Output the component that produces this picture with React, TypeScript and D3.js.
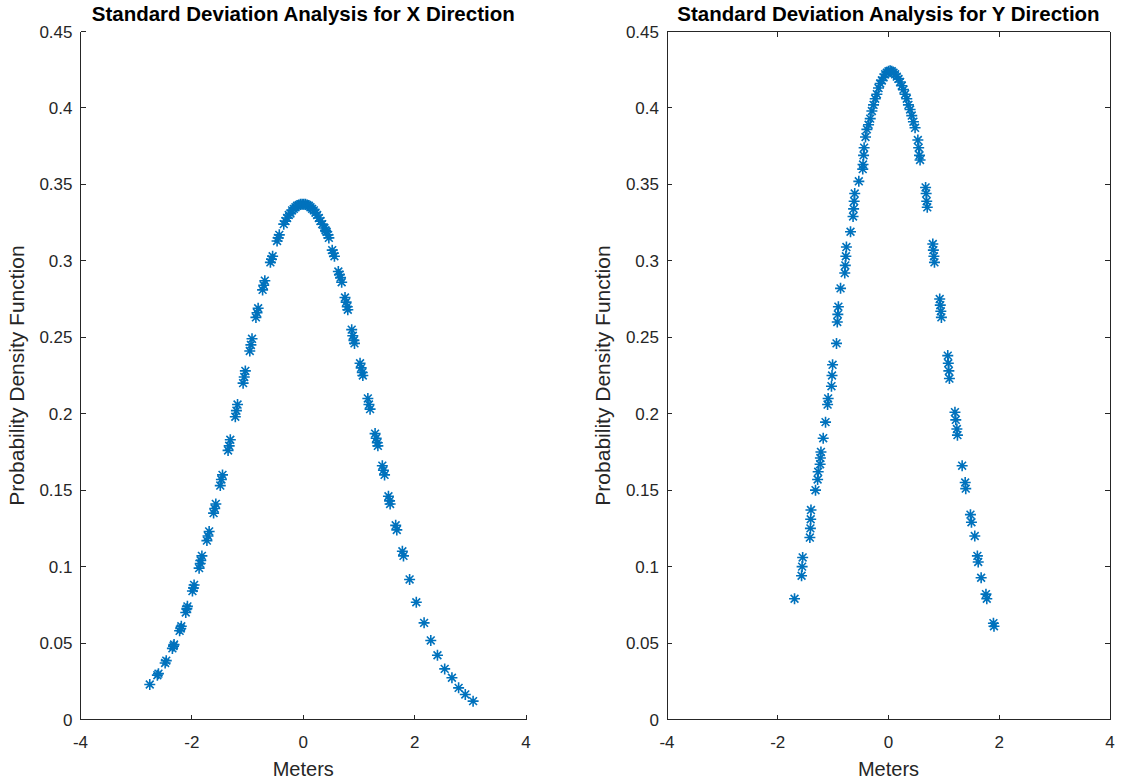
import React from 'react';
import * as d3 from 'd3';

// ---------- data ----------
const xTicks = [-4, -2, 0, 2, 4];
const xTickLabels = ['-4', '-2', '0', '2', '4'];
const yTicks = [0, 0.05, 0.1, 0.15, 0.2, 0.25, 0.3, 0.35, 0.4, 0.45];
const yTickLabels = ['0', '0.05', '0.1', '0.15', '0.2', '0.25', '0.3', '0.35', '0.4', '0.45'];

const titleX = 'Standard Deviation Analysis for X Direction';
const titleY = 'Standard Deviation Analysis for Y Direction';
const xLabel = 'Meters';
const yLabel = 'Probability Density Function';

// X direction: meters and probability density
const xDirMeters = [
  -2.756,
  -2.62, -2.60,
  -2.48, -2.46,
  -2.35, -2.33, -2.32,
  -2.22, -2.20, -2.19,
  -2.11, -2.09, -2.08,
  -1.99, -1.97, -1.96,
  -1.87, -1.85, -1.84, -1.82,
  -1.73, -1.71, -1.69,
  -1.61, -1.59, -1.57,
  -1.49, -1.47, -1.45,
  -1.35, -1.33, -1.31,
  -1.22, -1.20, -1.18,
  -1.08, -1.06, -1.04,
  -0.96, -0.94, -0.92,
  -0.85, -0.83, -0.81,
  -0.73, -0.71, -0.69,
  -0.59, -0.57, -0.55,
  -0.47, -0.45, -0.43,
  -0.35, -0.32, -0.29, -0.26, -0.23, -0.20, -0.17, -0.14, -0.11, -0.08, -0.05, -0.02,
  0.01, 0.04, 0.07, 0.10, 0.13, 0.16, 0.19, 0.22, 0.25, 0.28, 0.31, 0.34,
  0.38, 0.40, 0.42, 0.445, 0.46,
  0.52, 0.54, 0.56,
  0.63, 0.65, 0.67, 0.69,
  0.75, 0.77, 0.79, 0.80,
  0.87, 0.89, 0.91, 0.92,
  1.02, 1.04, 1.06, 1.07,
  1.16, 1.18, 1.20,
  1.29, 1.31, 1.33, 1.34,
  1.42, 1.44, 1.46,
  1.53, 1.55, 1.56,
  1.66, 1.68,
  1.78, 1.80,
  1.91, 2.03, 2.17, 2.29, 2.41, 2.54, 2.67, 2.79, 2.91, 3.05,
];
const xDirPdf = [
  0.0229,
  0.029, 0.030,
  0.037, 0.0385,
  0.0465, 0.048, 0.049,
  0.058, 0.0595, 0.061,
  0.070, 0.0725, 0.074,
  0.084, 0.086, 0.088,
  0.099, 0.102, 0.104, 0.107,
  0.117, 0.120, 0.123,
  0.135, 0.138, 0.141,
  0.153, 0.157, 0.160,
  0.176, 0.179, 0.183,
  0.198, 0.202, 0.206,
  0.220, 0.224, 0.228,
  0.241, 0.245, 0.249,
  0.263, 0.266, 0.269,
  0.281, 0.284, 0.287,
  0.299, 0.301, 0.303,
  0.313, 0.315, 0.317,
  0.324, 0.326, 0.328, 0.330, 0.331, 0.333, 0.334, 0.335, 0.336, 0.3365, 0.337, 0.337,
  0.337, 0.337, 0.3365, 0.336, 0.335, 0.334, 0.333, 0.3315, 0.330, 0.328, 0.326, 0.324,
  0.3215, 0.320, 0.319, 0.317, 0.315,
  0.307, 0.305, 0.303,
  0.293, 0.291, 0.289, 0.286,
  0.276, 0.273, 0.270, 0.268,
  0.255, 0.251, 0.248, 0.246,
  0.233, 0.230, 0.227, 0.225,
  0.210, 0.206, 0.203,
  0.187, 0.184, 0.181, 0.179,
  0.166, 0.163, 0.160,
  0.146, 0.143, 0.141,
  0.127, 0.124,
  0.110, 0.107,
  0.0916, 0.0767, 0.0632, 0.0517, 0.042, 0.0331, 0.0273, 0.0207, 0.0164, 0.012,
];

// Y direction: meters and probability density
const yDirMeters = [
  -1.697,
  -1.55, -1.56, -1.57,
  -1.40, -1.405, -1.41, -1.42,
  -1.27, -1.28, -1.318,
  -1.22, -1.23, -1.235,
  -1.179,
  -1.137,
  -1.09, -1.10,
  -1.01, -1.02, -1.03,
  -0.939,
  -0.905, -0.915, -0.925,
  -0.866,
  -0.76, -0.77, -0.78, -0.79,
  -0.686,
  -0.61, -0.62, -0.63, -0.64,
  -0.536,
  -0.44, -0.45, -0.46, -0.465,
  -0.39, -0.415,
  -0.36, -0.33, -0.30, -0.27, -0.24, -0.21, -0.18, -0.15, -0.12, -0.09, -0.06, -0.03,
  0.00, 0.03, 0.06, 0.09, 0.12, 0.15, 0.18, 0.21, 0.24, 0.27, 0.30, 0.33, 0.36, 0.39, 0.42, 0.45, 0.48,
  0.53, 0.545, 0.56, 0.57,
  0.67, 0.68, 0.69, 0.70,
  0.80, 0.81, 0.82, 0.83,
  0.925, 0.935, 0.945, 0.955,
  1.07, 1.08, 1.09, 1.10,
  1.20, 1.215,
  1.235, 1.245,
  1.33,
  1.385, 1.395,
  1.48, 1.498,
  1.558,
  1.605, 1.62,
  1.673,
  1.76, 1.775,
  1.895, 1.905,
];
const yDirPdf = [
  0.079,
  0.106, 0.100, 0.094,
  0.137, 0.131, 0.125, 0.119,
  0.162, 0.157, 0.150,
  0.175, 0.171, 0.167,
  0.184,
  0.1945,
  0.210, 0.206,
  0.232, 0.225, 0.218,
  0.246,
  0.270, 0.265, 0.260,
  0.282,
  0.309, 0.303, 0.297, 0.292,
  0.319,
  0.344, 0.339, 0.334, 0.329,
  0.352,
  0.374, 0.369, 0.363, 0.360,
  0.386, 0.381,
  0.389, 0.393, 0.398, 0.402, 0.406, 0.409, 0.413, 0.416, 0.418, 0.420, 0.422, 0.423,
  0.424, 0.4243, 0.424, 0.423, 0.422, 0.4205, 0.419, 0.417, 0.4145, 0.412, 0.409, 0.406, 0.402, 0.399, 0.395, 0.391, 0.387,
  0.379, 0.374, 0.369, 0.366,
  0.348, 0.344, 0.339, 0.335,
  0.311, 0.307, 0.303, 0.299,
  0.275, 0.271, 0.267, 0.263,
  0.238, 0.233, 0.228, 0.223,
  0.201, 0.196,
  0.190, 0.186,
  0.166,
  0.155, 0.151,
  0.134, 0.129,
  0.120,
  0.107, 0.103,
  0.0927,
  0.082, 0.079,
  0.063, 0.061,
];

// ---------- styles ----------
const FONT = "'Liberation Sans', Arial, Helvetica, sans-serif";
const AXIS = '#262626';
const MARK = '#0072BD';
const R = 5.5;
const D = 3.9;
const starPath = `M${-R},0H${R}M0,${-R}V${R}M${-D},${-D}L${D},${D}M${-D},${D}L${D},${-D}`;

type PanelProps = {
  left: number; right: number; top: number; bottom: number;
  title: string; xs: number[]; ys: number[]; box: boolean;
};

function Panel({ left, right, top, bottom, title, xs, ys, box }: PanelProps) {
  const x = d3.scaleLinear().domain([-4, 4]).range([left, right]);
  const y = d3.scaleLinear().domain([0, 0.45]).range([bottom, top]);
  const n = Math.min(xs.length, ys.length);
  const pts = d3.range(n).map((i) => [xs[i], ys[i]] as [number, number]);
  const tl = 5;
  const cx = (left + right) / 2;
  const cy = (top + bottom) / 2;
  return (
    <g>
      {/* points */}
      <g stroke={MARK} strokeWidth={1.6} fill="none">
        {pts.map((p, i) => (
          <path key={i} d={starPath} transform={`translate(${x(p[0])},${y(p[1])})`} />
        ))}
      </g>
      {/* axes */}
      <g stroke={AXIS} strokeWidth={1} fill="none" shapeRendering="crispEdges">
        <line x1={left} x2={right} y1={bottom} y2={bottom} />
        <line x1={left} x2={left} y1={top} y2={bottom} />
        {box && <line x1={left} x2={right} y1={top} y2={top} />}
        {box && <line x1={right} x2={right} y1={top} y2={bottom} />}
        {xTicks.map((t) => (
          <line key={'xb' + t} x1={x(t)} x2={x(t)} y1={bottom} y2={bottom - tl} />
        ))}
        {box && xTicks.map((t) => (
          <line key={'xt' + t} x1={x(t)} x2={x(t)} y1={top} y2={top + tl} />
        ))}
        {yTicks.map((t) => (
          <line key={'yl' + t} x1={left} x2={left + tl} y1={y(t)} y2={y(t)} />
        ))}
        {box && yTicks.map((t) => (
          <line key={'yr' + t} x1={right} x2={right - tl} y1={y(t)} y2={y(t)} />
        ))}
      </g>
      {/* tick labels */}
      <g fontFamily={FONT} fontSize={17} fill={AXIS}>
        {xTicks.map((t, i) => (
          <text key={'xl' + t} x={x(t)} y={bottom + 28} textAnchor="middle">{xTickLabels[i]}</text>
        ))}
        {yTicks.map((t, i) => (
          <text key={'ylab' + t} x={left - 8} y={y(t) + 6} textAnchor="end">{yTickLabels[i]}</text>
        ))}
      </g>
      {/* labels */}
      <text x={cx} y={bottom + 56} textAnchor="middle" fontFamily={FONT} fontSize={20} fill={AXIS}>{xLabel}</text>
      <text transform={`translate(${left - 57},${cy}) rotate(-90)`} textAnchor="middle" fontFamily={FONT} fontSize={21} fill={AXIS}>{yLabel}</text>
      <text x={cx} y={21} textAnchor="middle" fontFamily={FONT} fontSize={20.5} fontWeight="bold" fill="#000">{title}</text>
    </g>
  );
}

export default function App() {
  return (
    <svg width={1128} height={782} style={{ position: 'absolute', left: 0, top: 0, background: '#fff' }}>
      <rect x={0} y={0} width={1128} height={782} fill="#fff" />
      <Panel left={80.5} right={526} top={31.5} bottom={719.5} title={titleX} xs={xDirMeters} ys={xDirPdf} box={false} />
      <Panel left={667} right={1110} top={31.5} bottom={719.5} title={titleY} xs={yDirMeters} ys={yDirPdf} box={true} />
    </svg>
  );
}
